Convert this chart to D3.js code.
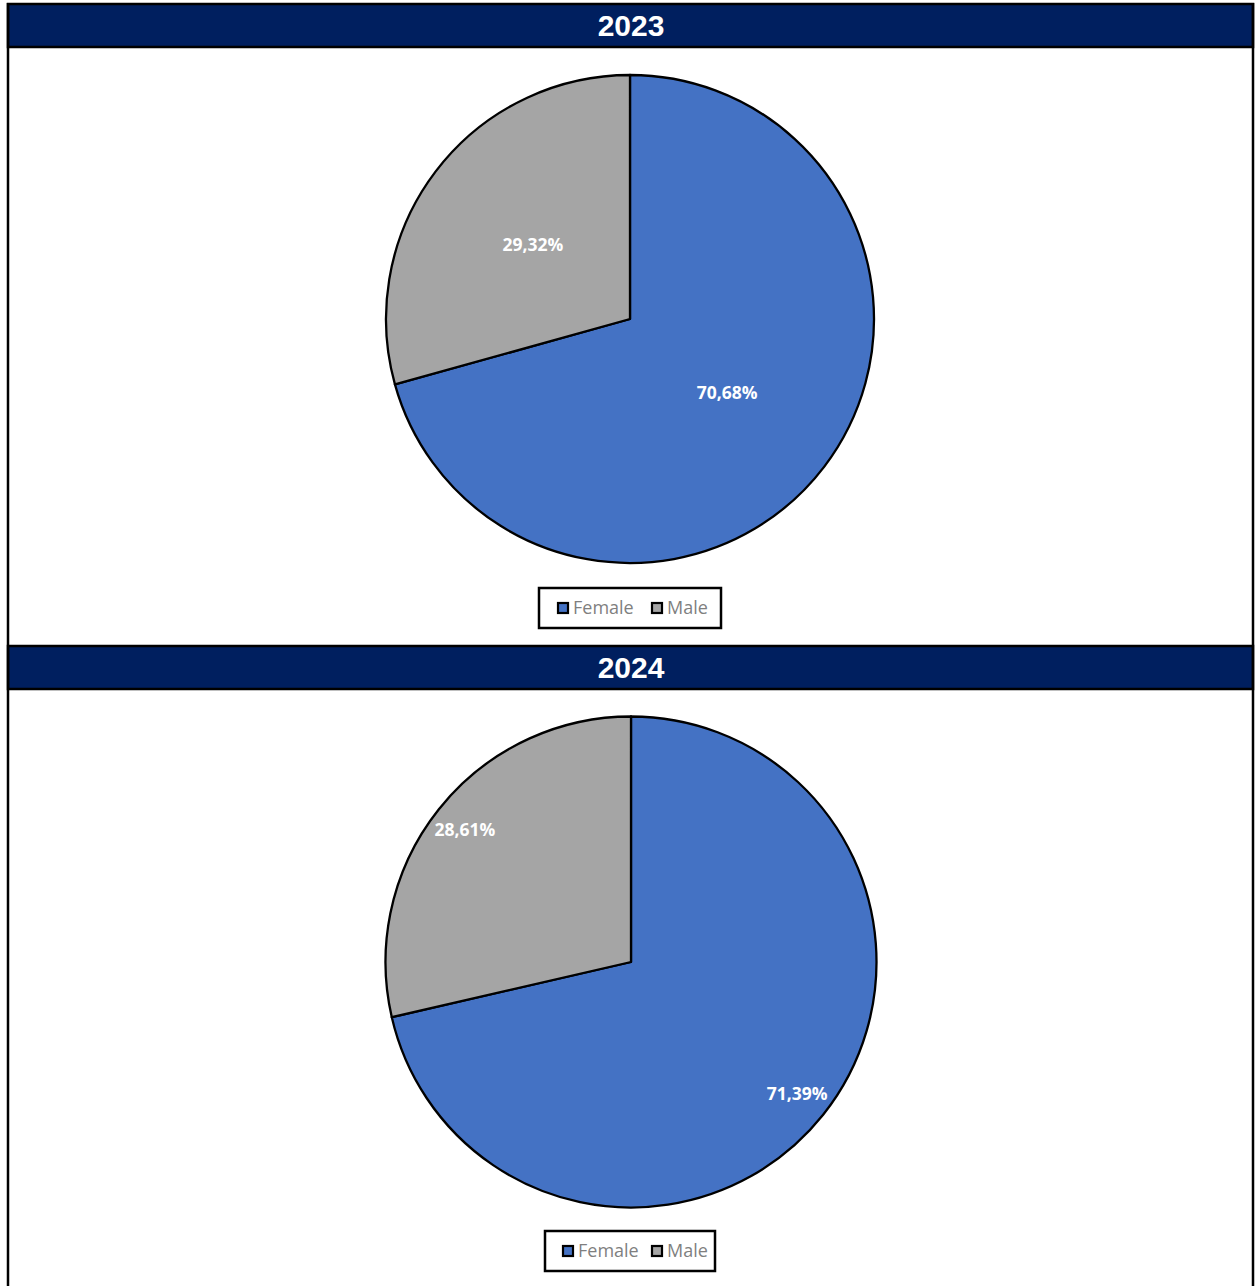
<!doctype html>
<html lang="en">
<head>
    <meta charset="UTF-8">
    <title>Female / Male 2023-2024</title>
    <script src="https://d3js.org/d3.v7.min.js"></script>
    <style>
        body { margin: 0; background: #fff; }
        svg { display: block; }
    </style>
</head>
<body>
<script>
    var width = 1256;
    var height = 1286;

    // data
    var years = ['2023', '2024'];
    var categories = ['Female', 'Male'];
    var values2023 = [70.68, 29.32];
    var values2024 = [71.39, 28.61];
    var colors = ['#4472C4', '#A5A5A5'];

    var panels = [
        {year: years[0], values: values2023, top: 4, cx: 630, cy: 319, r: 244, labelPos: 0.5,
         legendX: 539, legendW: 182, legendY: 588, items: [18, 112]},
        {year: years[1], values: values2024, top: 646, cx: 631, cy: 962, r: 245.5, labelPos: 0.865,
         legendX: 545, legendW: 170, legendY: 1231, items: [17, 106]}
    ];

    var svg = d3.select('body').append('svg')
        .attr('width', width)
        .attr('height', height);

    var pie = d3.pie().sort(null).value(function(d){ return d.value; });

    panels.forEach(function(p){
        var g = svg.append('g');

        // header band
        g.append('rect')
            .attr('x', 8).attr('y', p.top)
            .attr('width', 1245).attr('height', 43)
            .attr('fill', '#001F5F')
            .attr('stroke', '#000').attr('stroke-width', 2.5);

        g.append('text')
            .attr('x', 631).attr('y', p.top + 32)
            .attr('text-anchor', 'middle')
            .attr('fill', '#fff')
            .attr('font-family', 'Liberation Sans, Arial, sans-serif')
            .attr('font-weight', 'bold')
            .attr('font-size', 30)
            .text(p.year);

        var data = categories.map(function(c, i){ return {name: c, value: p.values[i]}; });
        var arcs = pie(data);
        var arc = d3.arc().innerRadius(0).outerRadius(p.r);
        var labelArc = d3.arc().innerRadius(p.r * p.labelPos).outerRadius(p.r * p.labelPos);

        var pg = g.append('g').attr('transform', 'translate(' + p.cx + ',' + p.cy + ')');
        pg.selectAll('path')
            .data(arcs)
            .enter().append('path')
            .attr('d', arc)
            .attr('fill', function(d, i){ return colors[i]; })
            .attr('stroke', '#000')
            .attr('stroke-width', 2.3)
            .attr('stroke-linejoin', 'round');

        pg.selectAll('text')
            .data(arcs)
            .enter().append('text')
            .attr('transform', function(d){ return 'translate(' + labelArc.centroid(d) + ')'; })
            .attr('text-anchor', 'middle')
            .attr('dy', '0.35em')
            .attr('fill', '#fff')
            .attr('font-family', 'Open Sans, sans-serif')
            .attr('font-weight', 'bold')
            .attr('font-size', 17.5)
            .text(function(d){ return d.data.value.toFixed(2).replace('.', ',') + '%'; });

        // legend
        var lg = g.append('g').attr('transform', 'translate(' + p.legendX + ',' + p.legendY + ')');
        lg.append('rect')
            .attr('width', p.legendW).attr('height', 40)
            .attr('fill', '#fff')
            .attr('stroke', '#000').attr('stroke-width', 2.5);

        categories.forEach(function(c, i){
            lg.append('rect')
                .attr('x', p.items[i] + 1).attr('y', 15)
                .attr('width', 10).attr('height', 10)
                .attr('fill', colors[i])
                .attr('stroke', '#000').attr('stroke-width', 2.2);
            lg.append('text')
                .attr('x', p.items[i] + 16).attr('y', 26)
                .attr('fill', '#7F7F7F')
                .attr('font-family', 'Open Sans, sans-serif')
                .attr('font-size', 18)
                .text(c);
        });
    });

    // outer side borders
    svg.append('line').attr('x1', 8).attr('x2', 8).attr('y1', 3).attr('y2', height)
        .attr('stroke', '#000').attr('stroke-width', 2.5);
    svg.append('line').attr('x1', 1253).attr('x2', 1253).attr('y1', 3).attr('y2', height)
        .attr('stroke', '#000').attr('stroke-width', 2.5);
</script>
</body>
</html>
